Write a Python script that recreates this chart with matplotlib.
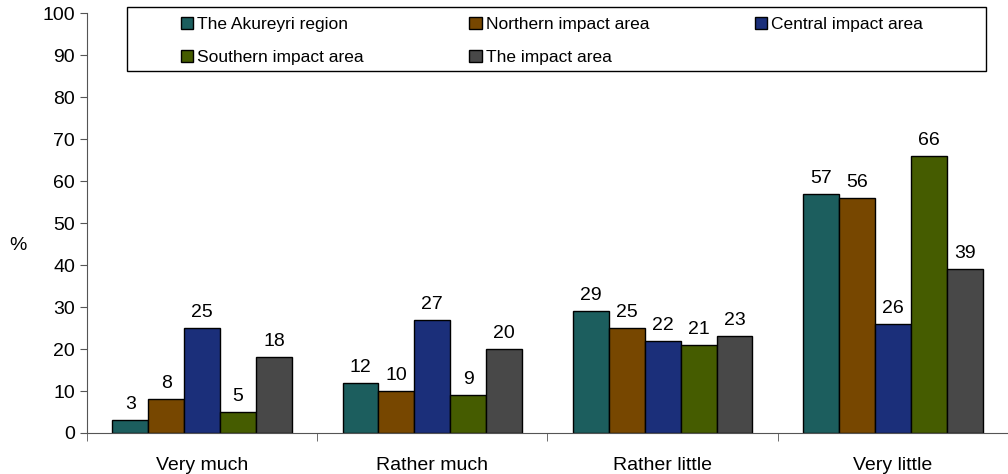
import matplotlib
matplotlib.use("Agg")
import matplotlib.pyplot as plt
from matplotlib.patches import Rectangle
import numpy as np

plt.rcParams['font.family'] = ['Liberation Sans', 'DejaVu Sans']

categories = ["Very much", "Rather much", "Rather little", "Very little"]
series_names = ["The Akureyri region", "Northern impact area", "Central impact area",
                "Southern impact area", "The impact area"]
akureyri = [3, 12, 29, 57]
northern = [8, 10, 25, 56]
central = [25, 27, 22, 26]
southern = [5, 9, 21, 66]
impact = [18, 20, 23, 39]
colors = ["#1c5e5e", "#774700", "#1b2f7a", "#455c00", "#484848"]

values = [akureyri, northern, central, southern, impact]

fig = plt.figure(figsize=(10.08, 4.74), dpi=100)
ax = fig.add_axes([0.0863, 0.0865, 0.9137, 0.886])

x = np.arange(len(categories))
width = 0.156
handles = []
for i, (name, vals, col) in enumerate(zip(series_names, values, colors)):
    pos = x + (i - 2) * width
    b = ax.bar(pos, vals, width, color=col, edgecolor="black", linewidth=1.0, label=name)
    handles.append(b)
    for p, v in zip(pos, vals):
        ax.annotate(str(v), (p, v), xytext=(0, 5), textcoords="offset points",
                    ha="center", va="bottom", fontsize=14)

ax.set_xlim(-0.5, len(categories) - 0.5)
ax.set_ylim(0, 100)
ax.set_yticks(range(0, 101, 10))
ax.set_xticks(x)
ax.set_xticklabels(categories, fontsize=14)
ax.set_xticks(np.arange(-0.5, len(categories), 1), minor=True)
ax.tick_params(axis="x", which="major", length=0, pad=17)
ax.tick_params(axis="x", which="minor", length=6, direction="out", color="#555555")
ax.tick_params(axis="y", length=5, direction="out", labelsize=14, color="#555555")

for s in ["top", "right"]:
    ax.spines[s].set_visible(False)
ax.spines["left"].set_color("#555555")
ax.spines["bottom"].set_color("#555555")

fig.text(18 / 1008, 1 - 245 / 474, "%", fontsize=14, ha="center", va="center")

# legend fills row by row: reorder for matplotlib's column-major layout
order = [0, 3, 1, 4, 2]
leg = fig.legend(handles=[handles[k] for k in order],
                 labels=[series_names[k] for k in order], ncol=3, loc="center left",
                 bbox_to_anchor=(181 / 1008, 1 - 41 / 474, 742 / 1008, 0), mode="expand",
                 frameon=False, fontsize=12.5,
                 handlelength=0.7, handleheight=0.7, handletextpad=0.25,
                 borderaxespad=0, borderpad=0, labelspacing=1.05)
fig.patches.append(Rectangle((127 / 1008, 1 - 71 / 474), 859 / 1008, 64 / 474,
                             transform=fig.transFigure, fill=False,
                             edgecolor="black", linewidth=1.0))

fig.savefig("out.png", dpi=100)
